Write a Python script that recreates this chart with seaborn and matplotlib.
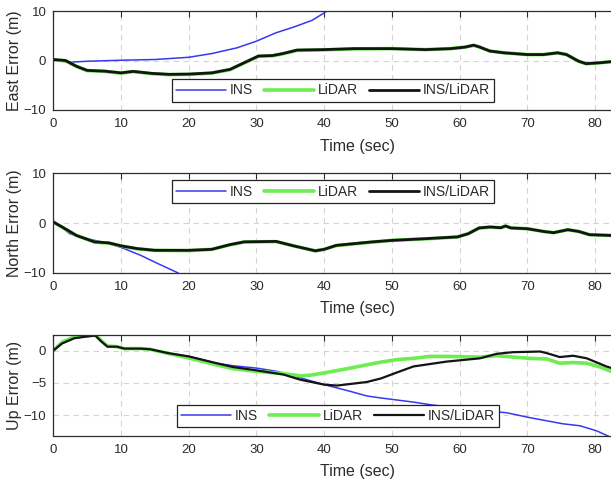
import numpy as np
import pandas as pd
import matplotlib
matplotlib.use("Agg")
import matplotlib.pyplot as plt
import seaborn as sns

# ---------------- data (seconds, metres) ----------------
t_east_ins = [0, 1, 2.4, 5, 10, 15, 20, 23.4, 27.1, 30, 32.9, 35.5, 38.2, 40, 40.7, 41.5]
east_ins = [0.1, -0.1, -0.35, -0.15, 0.05, 0.2, 0.65, 1.4, 2.55, 3.9, 5.6, 6.75, 8.1, 9.6, 10.3, 11.2]

t_east_lidar = [0, 1.8, 3.4, 5, 7.6, 10, 11.8, 14.5, 17.1, 20, 23.4, 26.1, 28.2, 30.3, 32.4, 33.9,
                36, 40, 44.5, 50, 55, 58.7, 60.8, 62.1, 62.9, 64.5, 66.6, 70, 72.4, 74.5, 75.8,
                77.6, 78.7, 80.8, 82.3, 84]
east_lidar = [0.15, -0.05, -1.2, -2.05, -2.2, -2.55, -2.25, -2.65, -2.85, -2.8, -2.55, -1.85, -0.5,
              0.85, 0.95, 1.35, 2.05, 2.15, 2.35, 2.4, 2.2, 2.4, 2.7, 3.05, 2.75, 1.9, 1.55, 1.2,
              1.2, 1.55, 1.2, -0.15, -0.65, -0.45, -0.25, -0.2]

t_east_fused = [0, 1.8, 3.4, 5, 7.6, 10, 11.8, 14.5, 17.1, 20, 23.4, 26.1, 28.2, 30.3, 32.4, 33.9,
                36, 40, 44.5, 50, 55, 58.7, 60.8, 62.1, 62.9, 64.5, 66.6, 70, 72.4, 74.5, 75.8,
                77.6, 78.7, 80.8, 82.3, 84]
east_fused = [0.2, 0.0, -1.15, -2.0, -2.15, -2.5, -2.2, -2.6, -2.8, -2.75, -2.5, -1.8, -0.45, 0.9,
              1.0, 1.4, 2.1, 2.2, 2.4, 2.4, 2.2, 2.4, 2.7, 3.1, 2.75, 1.9, 1.55, 1.2, 1.2, 1.55,
              1.2, -0.15, -0.65, -0.45, -0.25, -0.2]

t_north_ins = [0, 1.3, 2.4, 5, 8.2, 10, 12.9, 15.5, 18.2, 19]
north_ins = [0.2, -0.9, -2.15, -3.15, -4.15, -4.9, -6.5, -8.2, -9.9, -10.5]

t_north_lidar = [0, 1.3, 3.4, 6.1, 8.2, 10, 12.4, 15, 20, 23.4, 26.1, 28.2, 32.9, 35.5, 38.7, 40,
                 41.8, 47.1, 50, 55, 59.7, 61.3, 62.9, 64.5, 66.1, 66.8, 67.6, 70, 72.4, 73.9, 76,
                 77.6, 79.2, 82.3, 84]
north_lidar = [0.2, -0.85, -2.5, -3.85, -4.05, -4.6, -5.2, -5.5, -5.55, -5.3, -4.4, -3.8, -3.75,
               -4.6, -5.6, -5.3, -4.55, -3.85, -3.5, -3.2, -2.8, -2.15, -1.0, -0.85, -0.95, -0.6,
               -1.0, -1.15, -1.7, -1.95, -1.35, -1.7, -2.35, -2.5, -2.5]

t_north_fused = [0, 1.3, 3.4, 6.1, 8.2, 10, 12.4, 15, 20, 23.4, 26.1, 28.2, 32.9, 35.5, 38.7, 40,
                 41.8, 47.1, 50, 55, 59.7, 61.3, 62.9, 64.5, 66.1, 66.8, 67.6, 70, 72.4, 73.9, 76,
                 77.6, 79.2, 82.3, 84]
north_fused = [0.2, -0.8, -2.5, -3.8, -4.0, -4.6, -5.15, -5.5, -5.5, -5.3, -4.35, -3.8, -3.7,
               -4.6, -5.6, -5.3, -4.5, -3.8, -3.5, -3.15, -2.8, -2.15, -1.0, -0.8, -0.95, -0.6,
               -1.0, -1.15, -1.7, -1.95, -1.35, -1.7, -2.35, -2.5, -2.5]

t_up_ins = [0, 1.3, 3.1, 4.8, 6.2, 7.1, 8, 9.4, 10.5, 12.9, 14.3, 17, 20, 24.1, 26.6, 30, 33, 36.5,
            40, 43.9, 46.3, 48.3, 53.2, 56, 60, 63, 67, 70.4, 75.3, 77.8, 80.3, 82.4, 84]
up_ins = [0, 1.1, 1.9, 2.15, 2.3, 1.4, 0.6, 0.6, 0.3, 0.3, 0.2, -0.4, -0.9, -1.95, -2.35, -2.7,
          -3.2, -4.2, -5.25, -6.3, -7.0, -7.3, -7.95, -8.4, -8.9, -9.2, -9.6, -10.35, -11.3, -11.6,
          -12.4, -13.4, -14.0]

t_up_lidar = [0, 1.3, 3.1, 5, 6.2, 7.1, 8, 9.4, 10.5, 12.9, 14.3, 17, 20, 24.1, 26.6, 30, 34, 36.5,
              38, 40, 43.9, 46.3, 48.3, 50.7, 53.2, 55.6, 58.1, 63, 65.5, 67.9, 70.4, 72.9, 74.8,
              76.8, 78.8, 80.8, 82.4, 84]
up_lidar = [0, 1.3, 2.1, 2.4, 2.5, 1.5, 0.7, 0.6, 0.3, 0.3, 0.2, -0.45, -1.15, -2.2, -2.8, -3.2,
            -3.55, -3.9, -3.8, -3.45, -2.7, -2.2, -1.8, -1.4, -1.2, -0.9, -0.9, -1.0, -0.8, -1.0,
            -1.2, -1.3, -1.95, -1.85, -1.95, -2.55, -3.2, -3.8]

t_up_fused = [0, 1.3, 3.1, 4.8, 6.2, 7.1, 8, 9.4, 10.5, 12.9, 14.3, 17, 20, 24.1, 26.6, 30, 34,
              36.5, 40, 41.9, 43.9, 46.3, 48.4, 50.7, 53.2, 58.1, 63, 65.5, 67.9, 71.9, 72.9,
              74.8, 76.8, 78.8, 81.7, 84]
up_fused = [0, 1.1, 1.9, 2.15, 2.3, 1.4, 0.6, 0.6, 0.3, 0.3, 0.2, -0.4, -0.9, -1.95, -2.55, -3.05,
            -3.7, -4.5, -5.25, -5.4, -5.15, -4.85, -4.3, -3.4, -2.45, -1.7, -1.2, -0.5, -0.25,
            -0.15, -0.4, -1.0, -0.8, -1.2, -2.45, -3.2]

series_names = ["INS", "LiDAR", "INS/LiDAR"]
x_ticks = [0, 10, 20, 30, 40, 50, 60, 70, 80]

# ---------------- style ----------------
sns.set_theme(style="white")
plt.rcParams["font.family"] = ["Liberation Sans", "DejaVu Sans"]

INS_COLOR = "#3838f0"
LIDAR_COLOR = "#6ced52"
FUSED_COLOR = "#141414"
TEXT_COLOR = "#2b2b2b"

W, H = 611, 479
fig = plt.figure(figsize=(W / 100, H / 100), dpi=100)

AX_LEFT_PX = 53.3
AX_WIDTH_PX = 90 * 6.77        # x-axis runs 0..90 s; the figure shows up to ~82 s
left = AX_LEFT_PX / W
width = AX_WIDTH_PX / W

panels = [
    # (top px, bottom px, ylim, yticks, ylabel)
    (11.0, 110.0, (-10, 10), [-10, 0, 10], "East Error (m)"),
    (173.3, 272.7, (-10, 10), [-10, 0, 10], "North Error (m)"),
    (335.0, 435.5, (-13.1, 2.4), [-10, -5, 0], "Up Error (m)"),
]

data = [
    ((t_east_ins, east_ins), (t_east_lidar, east_lidar), (t_east_fused, east_fused)),
    ((t_north_ins, north_ins), (t_north_lidar, north_lidar), (t_north_fused, north_fused)),
    ((t_up_ins, up_ins), (t_up_lidar, up_lidar), (t_up_fused, up_fused)),
]

line_widths = [(1.1, 2.6, 2.0), (1.1, 2.6, 2.0), (1.1, 2.6, 1.6)]
legend_centers = [(333, 90.5), (333, 191.5), (338, 416.0)]

for (top, bot, ylim, yticks, ylabel), series, lws, (lx, ly) in zip(panels, data, line_widths, legend_centers):
    ax = fig.add_axes([left, 1 - bot / H, width, (bot - top) / H])
    colors = [INS_COLOR, LIDAR_COLOR, FUSED_COLOR]
    for (tt, vv), name, c, lw in zip(series, series_names, colors, lws):
        sns.lineplot(x=tt, y=vv, ax=ax, color=c, linewidth=lw, label=name,
                     sort=False, estimator=None)
    ax.set_xlim(0, 90)
    ax.set_ylim(*ylim)
    ax.set_xticks(x_ticks)
    ax.set_yticks(yticks)
    ax.grid(True, linestyle=(0, (5, 4)), color="#d4d4d4", linewidth=0.8)
    ax.tick_params(direction="in", length=4, width=0.8, colors=TEXT_COLOR,
                   labelsize=9.5, top=True, right=True, pad=6)
    ax.tick_params(axis="y", pad=5)
    for sp in ax.spines.values():
        sp.set_color("#2e2e2e")
        sp.set_linewidth(0.9)
    ax.set_xlabel("Time (sec)", fontsize=11.5, color=TEXT_COLOR, labelpad=6)
    ax.set_ylabel(ylabel, fontsize=11.5, color=TEXT_COLOR)
    # right edge of the rotated y label sits ~31 px left of the axis line
    ax.yaxis.set_label_coords(-31.0 / AX_WIDTH_PX, 0.5)
    leg = ax.legend(loc="center", bbox_to_anchor=(lx / W, 1 - ly / H),
                    bbox_transform=fig.transFigure, ncol=3, fontsize=10,
                    frameon=True, fancybox=False, framealpha=1, edgecolor="#222222",
                    handlelength=3.6, handletextpad=0.25, columnspacing=0.8,
                    borderpad=0.3, borderaxespad=0)
    leg.get_frame().set_linewidth(0.9)
    for txt in leg.get_texts():
        txt.set_color(TEXT_COLOR)

fig.savefig("out.png", dpi=100)
